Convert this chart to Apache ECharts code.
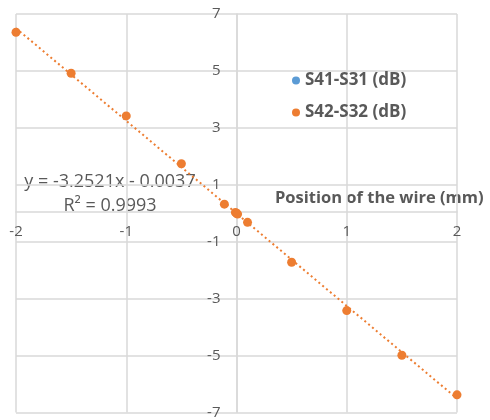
<!DOCTYPE html>
<html><head><meta charset="utf-8">
<script src="https://cdn.jsdelivr.net/npm/echarts@6/dist/echarts.min.js"></script>
<style>html,body{margin:0;padding:0;background:#fff}#c{width:490px;height:420px}</style>
</head><body><div id="c"></div>
<script>
// Data
const positions = [-2, -1.5, -1, -0.5, -0.11, -0.01, 0, 0.01, 0.1, 0.5, 1, 1.5, 2];
const s41s31 = [6.36, 4.92, 3.42, 1.74, 0.32, 0.03, 0.0, -0.03, -0.32, -1.72, -3.42, -4.99, -6.38];
const s42s32 = [6.36, 4.92, 3.42, 1.74, 0.32, 0.03, 0.0, -0.03, -0.32, -1.72, -3.42, -4.99, -6.38];
const trendSlope = -3.2521;
const trendIntercept = -0.0037;
const trendRange = [-2, 2];
const seriesNames = ['S41-S31 (dB)', 'S42-S32 (dB)'];
const xTicks = [-2, -1, 0, 1, 2];
const yTicks = [-7, -5, -3, -1, 1, 3, 5, 7];
const axisTitle = 'Position of the wire (mm)';
const eqLabel = 'y = -3.2521x - 0.0037';
const r2Label = 'R² = 0.9993';

const pair = (xs, ys) => xs.map((x, i) => [x, ys[i]]);
const trend = trendRange.map(x => [x, trendSlope * x + trendIntercept]);

const gridColor = '#d9d9d9';
const textColor = '#595959';
const font = 'Open Sans';

const W = 490, H = 420;
const G = {left: 16, right: 33, top: 14, bottom: 4};
const xMin = xTicks[0], xMax = xTicks[xTicks.length - 1];
const yMin = yTicks[0], yMax = yTicks[yTicks.length - 1];
// offsets to bring each axis to the other's zero
const gw = W - G.left - G.right, gh = H - G.top - G.bottom;
const yAxisOffset = -gw * (0 - xMin) / (xMax - xMin);
const xAxisOffset = -gh * (0 - yMin) / (yMax - yMin);

const chart = echarts.init(document.getElementById('c'));
chart.setOption({
  animation: false,
  backgroundColor: '#fff',
  grid: Object.assign({containLabel: false}, G),
  xAxis: {
    type: 'value', min: xMin, max: xMax, interval: 1, position: 'bottom', offset: xAxisOffset,
    axisLine: {onZero: false, lineStyle: {color: gridColor, width: 1.5}},
    axisTick: {show: false},
    splitLine: {show: true, lineStyle: {color: gridColor, width: 1.5}},
    axisLabel: {color: textColor, fontFamily: font, fontSize: 15, margin: 13, showMinLabel: true, showMaxLabel: true}
  },
  yAxis: {
    type: 'value', min: yMin, max: yMax, interval: 2, position: 'left', offset: yAxisOffset,
    axisLine: {onZero: false, lineStyle: {color: gridColor, width: 1.5}},
    axisTick: {show: false},
    splitLine: {show: true, lineStyle: {color: gridColor, width: 1.5}},
    axisLabel: {color: textColor, fontFamily: font, fontSize: 15, margin: 16, showMinLabel: true, showMaxLabel: true}
  },
  legend: {
    data: seriesNames, orient: 'vertical', left: 287, top: 67, itemGap: 15,
    icon: 'circle', itemWidth: 8, itemHeight: 8,
    textStyle: {color: textColor, fontFamily: font, fontSize: 17, fontWeight: 'bold'}
  },
  graphic: [
    {type: 'text', x: 275, y: 198, style: {text: axisTitle, fill: textColor, font: 'bold 16.5px "Open Sans"', verticalAlign: 'middle'}},
    {type: 'text', x: 110, y: 182, style: {text: eqLabel, fill: textColor, font: '18px "Open Sans"', align: 'center', verticalAlign: 'middle'}},
    {type: 'text', x: 110, y: 206, style: {text: r2Label, fill: textColor, font: '18px "Open Sans"', align: 'center', verticalAlign: 'middle'}}
  ],
  series: [
    {name: 'trend', type: 'line', data: trend, symbol: 'none', silent: true,
     lineStyle: {color: '#ED7D31', width: 2, type: [2, 3]}, z: 1},
    {name: seriesNames[0], type: 'scatter', data: pair(positions, s41s31), symbolSize: 7,
     itemStyle: {color: '#5B9BD5', opacity: 1}, z: 2},
    {name: seriesNames[1], type: 'scatter', data: pair(positions, s42s32), symbolSize: 9,
     itemStyle: {color: '#ED7D31', opacity: 1}, z: 3}
  ]
});
</script></body></html>
